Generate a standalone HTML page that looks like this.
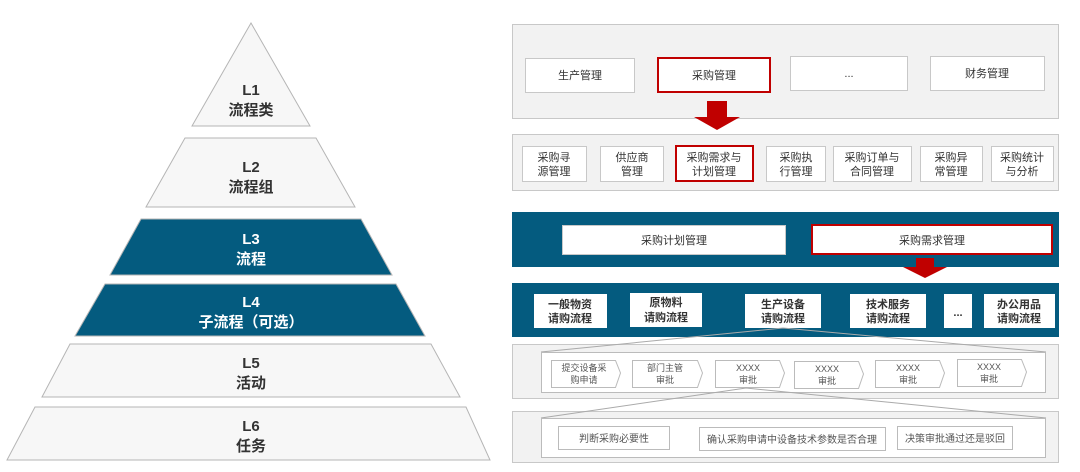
<!DOCTYPE html>
<html><head><meta charset="utf-8"><style>
html,body{margin:0;padding:0;background:#fff;}
svg{display:block;font-family:"Liberation Sans","Noto Sans CJK SC",sans-serif;}
</style></head><body>
<svg width="1080" height="472" viewBox="0 0 1080 472" xmlns="http://www.w3.org/2000/svg">
<g stroke="#b5b5b5" stroke-width="1">
<polygon points="251,23 310,126 192,126" fill="#f7f7f7"/>
<polygon points="185,138 316,138 355,207 146,207" fill="#f7f7f7"/>
<polygon points="141,219 361,219 392,275 110,275" fill="#045b7f"/>
<polygon points="105,284 396,284 425,336 75,336" fill="#045b7f"/>
<polygon points="70,344 431,344 460,397 42,397" fill="#f7f7f7"/>
<polygon points="35,407 466,407 490,460 7,460" fill="#f7f7f7"/>
</g>
<g font-size="15" font-weight="bold" text-anchor="middle">
<text x="251" y="95" fill="#333">L1</text><text x="251" y="115" fill="#333">流程类</text>
<text x="251" y="172" fill="#333">L2</text><text x="251" y="192" fill="#333">流程组</text>
<text x="251" y="244" fill="#fff">L3</text><text x="251" y="264" fill="#fff">流程</text>
<text x="251" y="307" fill="#fff">L4</text><text x="251" y="327" fill="#fff">子流程（可选）</text>
<text x="251" y="368" fill="#333">L5</text><text x="251" y="388" fill="#333">活动</text>
<text x="251" y="431" fill="#333">L6</text><text x="251" y="451" fill="#333">任务</text>
</g>

<!-- panel 1 -->
<rect x="512.5" y="24.5" width="546" height="94" fill="#f2f2f2" stroke="#c8c8c8"/>
<g fill="#fff" stroke="#c8c8c8">
<rect x="525.5" y="58.5" width="109" height="34"/>
<rect x="790.5" y="56.5" width="117" height="34"/>
<rect x="930.5" y="56.5" width="114" height="34"/>
</g>
<rect x="658" y="58" width="112" height="34" fill="#fff" stroke="#c00000" stroke-width="2"/>
<g font-size="11" fill="#333" text-anchor="middle">
<text x="580" y="79">生产管理</text><text x="714" y="79">采购管理</text>
<text x="849" y="77">...</text><text x="987" y="77">财务管理</text>
</g>
<polygon points="707,101 727,101 727,117 740,117 717,130 694,117 707,117" fill="#c00000"/>

<!-- panel 2 -->
<rect x="512.5" y="134.5" width="546" height="56" fill="#f2f2f2" stroke="#c8c8c8"/>
<g fill="#fff" stroke="#c8c8c8">
<rect x="522.5" y="146.5" width="64" height="35"/>
<rect x="600.5" y="146.5" width="63" height="35"/>
<rect x="766.5" y="146.5" width="59" height="35"/>
<rect x="833.5" y="146.5" width="78" height="35"/>
<rect x="920.5" y="146.5" width="62" height="35"/>
<rect x="991.5" y="146.5" width="62" height="35"/>
</g>
<rect x="676" y="146" width="77" height="35" fill="#fff" stroke="#c00000" stroke-width="2"/>
<g font-size="11" fill="#333" text-anchor="middle">
<text x="554" y="161">采购寻</text><text x="554" y="175">源管理</text>
<text x="632" y="161">供应商</text><text x="632" y="175">管理</text>
<text x="714" y="161">采购需求与</text><text x="714" y="175">计划管理</text>
<text x="796" y="161">采购执</text><text x="796" y="175">行管理</text>
<text x="872" y="161">采购订单与</text><text x="872" y="175">合同管理</text>
<text x="951" y="161">采购异</text><text x="951" y="175">常管理</text>
<text x="1022" y="161">采购统计</text><text x="1022" y="175">与分析</text>
</g>

<!-- panel 3 -->
<rect x="512" y="212" width="547" height="55" fill="#045b7f"/>
<rect x="562.5" y="225.5" width="223" height="29" fill="#fff" stroke="#c8c8c8"/>
<rect x="812" y="225" width="240" height="29" fill="#fff" stroke="#c00000" stroke-width="2"/>
<g font-size="11" fill="#333" text-anchor="middle">
<text x="674" y="244">采购计划管理</text><text x="932" y="244">采购需求管理</text>
</g>
<polygon points="916,258 934,258 934,267 947,267 925,278 903,267 916,267" fill="#c00000"/>

<!-- panel 4 -->
<rect x="512" y="283" width="547" height="54" fill="#045b7f"/>
<g fill="#fff">
<rect x="534" y="294" width="73" height="34"/>
<rect x="630" y="293" width="72" height="34"/>
<rect x="745" y="294" width="76" height="34"/>
<rect x="850" y="294" width="76" height="34"/>
<rect x="944" y="294" width="28" height="34"/>
<rect x="984" y="294" width="71" height="34"/>
</g>
<g font-size="11" font-weight="bold" fill="#333" text-anchor="middle">
<text x="570" y="308">一般物资</text><text x="570" y="322">请购流程</text>
<text x="666" y="306">原物料</text><text x="666" y="321">请购流程</text>
<text x="783" y="308">生产设备</text><text x="783" y="322">请购流程</text>
<text x="888" y="308">技术服务</text><text x="888" y="322">请购流程</text>
<text x="958" y="316">...</text>
<text x="1019" y="308">办公用品</text><text x="1019" y="322">请购流程</text>
</g>

<!-- panel 5 -->
<rect x="512.5" y="344.5" width="546" height="54" fill="#f2f2f2" stroke="#c8c8c8"/>
<polyline points="541,352 783,328 1046,352" fill="none" stroke="#aaa"/>
<rect x="541.5" y="352.5" width="504" height="40" fill="#fff" stroke="#bbb"/>
<g fill="#fff" stroke="#bbb">
<polygon points="551.5,360.5 615.5,360.5 620.5,373 615.5,387.5 551.5,387.5"/>
<polygon points="632.5,360.5 697.5,360.5 702.5,373 697.5,387.5 632.5,387.5"/>
<polygon points="715.5,360.5 779.5,360.5 784.5,373 779.5,387.5 715.5,387.5"/>
<polygon points="794.5,361.5 858.5,361.5 863.5,374 858.5,388.5 794.5,388.5"/>
<polygon points="875.5,360.5 939.5,360.5 944.5,373 939.5,387.5 875.5,387.5"/>
<polygon points="957.5,359.5 1021.5,359.5 1026.5,372 1021.5,386.5 957.5,386.5"/>
</g>
<g font-size="9" fill="#555" text-anchor="middle">
<text x="584" y="371">提交设备采</text><text x="584" y="383">购申请</text>
<text x="665" y="371">部门主管</text><text x="665" y="383">审批</text>
<text x="748" y="371">XXXX</text><text x="748" y="383">审批</text>
<text x="827" y="372">XXXX</text><text x="827" y="384">审批</text>
<text x="908" y="371">XXXX</text><text x="908" y="383">审批</text>
<text x="989" y="370">XXXX</text><text x="989" y="382">审批</text>
</g>

<!-- panel 6 -->
<rect x="512.5" y="411.5" width="546" height="51" fill="#f2f2f2" stroke="#c8c8c8"/>
<polyline points="541,418 746,388 1046,418" fill="none" stroke="#aaa"/>
<rect x="541.5" y="418.5" width="504" height="39" fill="#fff" stroke="#bbb"/>
<g fill="#fff" stroke="#bbb">
<rect x="558.5" y="426.5" width="111" height="23"/>
<rect x="699.5" y="427.5" width="186" height="23"/>
<rect x="897.5" y="426.5" width="115" height="23"/>
</g>
<g font-size="10" fill="#555" text-anchor="middle">
<text x="614" y="442">判断采购必要性</text>
<text x="792" y="443">确认采购申请中设备技术参数是否合理</text>
<text x="955" y="442">决策审批通过还是驳回</text>
</g>
</svg>
</body></html>
